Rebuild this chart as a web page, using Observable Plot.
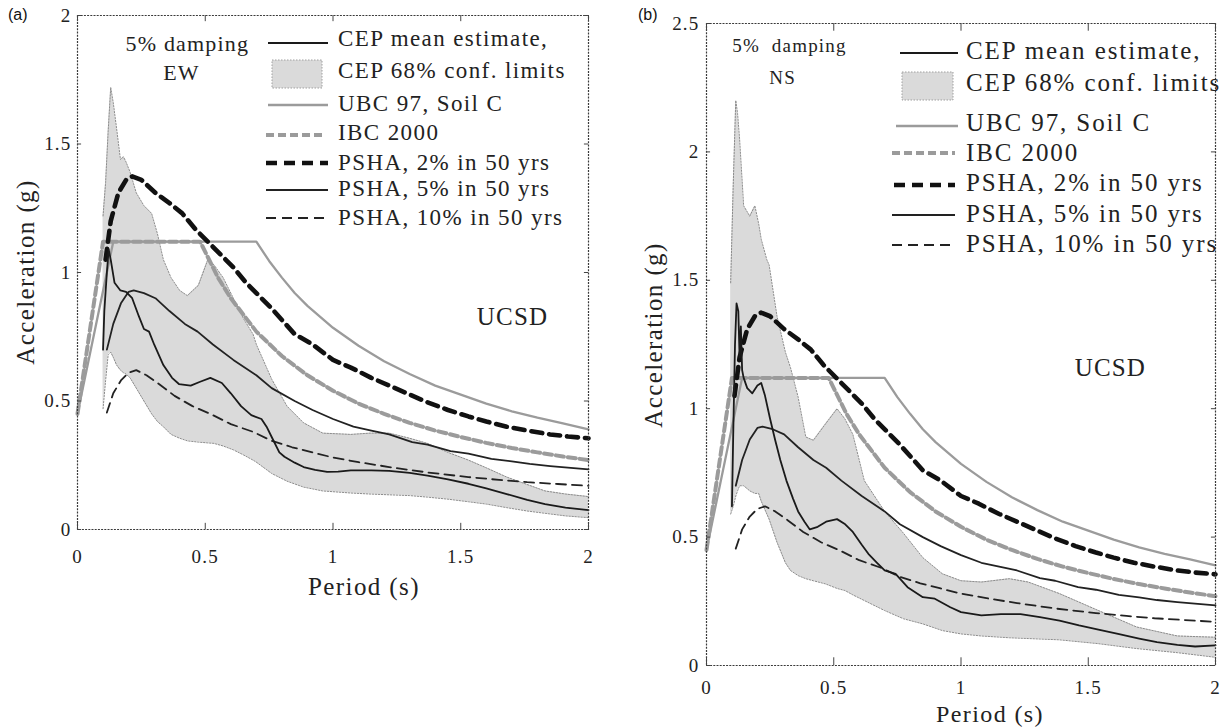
<!DOCTYPE html>
<html>
<head>
<meta charset="utf-8">
<script src="https://cdn.jsdelivr.net/npm/d3@7"></script>
<script src="https://cdn.jsdelivr.net/npm/@observablehq/plot@0.6"></script>
<style>
  html, body { margin: 0; padding: 0; background: #fff; }
  #wrap { position: relative; width: 1223px; height: 727px; overflow: hidden; }
  .panel { position: absolute; top: 0; }
  .tag { position: absolute; top: 6px; font-family: "Liberation Sans", Arial, sans-serif; font-size: 16px; color: #111; }
</style>
</head>
<body>
<div id="wrap"></div>
<script>
// ---------- axes ----------
const periodTicks = [0, 0.5, 1, 1.5, 2];
const accTicksEW = [0, 0.5, 1, 1.5, 2];
const accTicksNS = [0, 0.5, 1, 1.5, 2, 2.5];

// ---------- design spectra, [period (s), acceleration (g)] ----------
const ubc97 = [[0, 0.45], [0.14, 1.12], [0.7, 1.12], [0.75, 1.045], [0.8, 0.98], [0.85, 0.92], [0.9, 0.87],
  [1.0, 0.785], [1.1, 0.715], [1.2, 0.655], [1.3, 0.605], [1.4, 0.56], [1.5, 0.525], [1.6, 0.49],
  [1.7, 0.46], [1.8, 0.435], [1.9, 0.413], [2.0, 0.39]];
const ibc2000 = [[0, 0.45], [0.1, 1.12], [0.48, 1.12], [0.55, 0.98], [0.6, 0.9], [0.7, 0.77], [0.8, 0.675],
  [0.9, 0.6], [1.0, 0.54], [1.1, 0.49], [1.2, 0.45], [1.3, 0.415], [1.4, 0.385], [1.5, 0.36],
  [1.6, 0.337], [1.7, 0.317], [1.8, 0.3], [1.9, 0.284], [2.0, 0.27]];

// ---------- site hazard spectra ----------
const psha2 = [[0.11, 1.05], [0.13, 1.2], [0.16, 1.31], [0.19, 1.36], [0.214, 1.374], [0.25, 1.36], [0.305, 1.31],
  [0.36, 1.27], [0.41, 1.23], [0.46, 1.17], [0.52, 1.11], [0.56, 1.07], [0.61, 1.02], [0.66, 0.96],
  [0.72, 0.9], [0.76, 0.86], [0.85, 0.76], [0.92, 0.72], [1.0, 0.66], [1.07, 0.63], [1.15, 0.59],
  [1.22, 0.56], [1.3, 0.525], [1.37, 0.495], [1.45, 0.465], [1.53, 0.44], [1.6, 0.42], [1.68, 0.4],
  [1.76, 0.385], [1.85, 0.37], [1.92, 0.362], [2.0, 0.355]];
const psha5 = [[0.115, 0.7], [0.14, 0.8], [0.17, 0.88], [0.2, 0.925], [0.22, 0.93], [0.26, 0.92], [0.305, 0.9],
  [0.36, 0.85], [0.42, 0.8], [0.47, 0.77], [0.53, 0.72], [0.61, 0.66], [0.7, 0.6], [0.76, 0.55],
  [0.85, 0.5], [0.92, 0.465], [1.0, 0.43], [1.08, 0.4], [1.15, 0.385], [1.22, 0.37], [1.31, 0.34],
  [1.37, 0.33], [1.46, 0.305], [1.53, 0.295], [1.62, 0.275], [1.7, 0.265], [1.77, 0.255],
  [1.85, 0.247], [2.0, 0.234]];
const psha10 = [[0.115, 0.455], [0.14, 0.53], [0.17, 0.58], [0.2, 0.61], [0.23, 0.62], [0.27, 0.6], [0.32, 0.565],
  [0.38, 0.52], [0.45, 0.48], [0.53, 0.445], [0.6, 0.41], [0.687, 0.38], [0.76, 0.345], [0.84, 0.32],
  [0.92, 0.3], [1.0, 0.28], [1.1, 0.262], [1.22, 0.243], [1.37, 0.222], [1.53, 0.204], [1.65, 0.193],
  [1.76, 0.184], [1.88, 0.177], [2.0, 0.17]];

// ---------- CEP estimate, EW component ----------
const cepMeanEW = [[0.1, 0.7], [0.105, 0.85], [0.115, 1.0], [0.122, 1.09], [0.13, 1.05], [0.145, 0.96],
  [0.168, 0.93], [0.19, 0.925], [0.214, 0.9], [0.24, 0.83], [0.26, 0.78], [0.28, 0.77], [0.3, 0.72],
  [0.336, 0.64], [0.37, 0.59], [0.397, 0.566], [0.443, 0.56], [0.48, 0.575], [0.52, 0.59], [0.565, 0.57],
  [0.6, 0.53], [0.64, 0.48], [0.68, 0.445], [0.72, 0.43], [0.74, 0.4], [0.76, 0.36], [0.79, 0.3],
  [0.81, 0.283], [0.85, 0.26], [0.885, 0.243], [0.93, 0.232], [0.977, 0.224], [1.02, 0.225],
  [1.07, 0.23], [1.15, 0.23], [1.22, 0.228], [1.3, 0.22], [1.37, 0.21], [1.45, 0.195], [1.53, 0.178],
  [1.6, 0.16], [1.68, 0.138], [1.76, 0.115], [1.83, 0.099], [1.91, 0.085], [2.0, 0.075]];
// [period, lower limit, upper limit]
const cepBandEW = [[0.1, 0.47, 1.22], [0.11, 0.58, 1.35], [0.12, 0.68, 1.55], [0.13, 0.69, 1.72],
  [0.14, 0.67, 1.66], [0.153, 0.64, 1.56], [0.168, 0.62, 1.44], [0.18, 0.61, 1.45], [0.19, 0.605, 1.43],
  [0.206, 0.59, 1.39], [0.23, 0.55, 1.31], [0.26, 0.5, 1.26], [0.29, 0.45, 1.23], [0.313, 0.42, 1.15],
  [0.336, 0.4, 1.05], [0.366, 0.37, 0.98], [0.4, 0.355, 0.93], [0.43, 0.345, 0.91], [0.473, 0.34, 0.95],
  [0.51, 0.337, 1.05], [0.534, 0.335, 1.03], [0.57, 0.325, 0.98], [0.61, 0.31, 0.9], [0.65, 0.29, 0.82],
  [0.687, 0.27, 0.76], [0.7, 0.262, 0.72], [0.76, 0.218, 0.585], [0.82, 0.188, 0.48], [0.885, 0.165, 0.415],
  [0.96, 0.15, 0.375], [1.07, 0.142, 0.37], [1.145, 0.138, 0.375], [1.22, 0.135, 0.375], [1.3, 0.132, 0.355],
  [1.37, 0.126, 0.335], [1.45, 0.118, 0.3], [1.53, 0.108, 0.27], [1.6, 0.099, 0.24], [1.68, 0.085, 0.204],
  [1.76, 0.072, 0.175], [1.83, 0.063, 0.15], [1.91, 0.053, 0.138], [2.0, 0.046, 0.128]];

// ---------- CEP estimate, NS component ----------
const cepMeanNS = [[0.1, 0.62], [0.105, 0.9], [0.112, 1.25], [0.118, 1.41], [0.125, 1.38], [0.13, 1.2],
  [0.135, 1.32], [0.14, 1.15], [0.146, 1.12], [0.16, 1.08], [0.18, 1.06], [0.2, 1.09], [0.215, 1.1],
  [0.23, 1.05], [0.25, 0.96], [0.27, 0.877], [0.29, 0.8], [0.314, 0.72], [0.34, 0.65], [0.36, 0.6],
  [0.385, 0.56], [0.406, 0.53], [0.437, 0.54], [0.47, 0.56], [0.513, 0.57], [0.545, 0.55], [0.575, 0.52],
  [0.61, 0.47], [0.636, 0.435], [0.67, 0.4], [0.7, 0.37], [0.743, 0.357], [0.79, 0.305], [0.85, 0.266],
  [0.897, 0.26], [0.958, 0.227], [1.0, 0.208], [1.08, 0.195], [1.157, 0.2], [1.234, 0.2], [1.31, 0.188],
  [1.387, 0.175], [1.464, 0.156], [1.54, 0.14], [1.617, 0.123], [1.7, 0.105], [1.77, 0.091],
  [1.85, 0.08], [1.92, 0.074], [2.0, 0.078]];
const cepBandNS = [[0.095, 0.59, 1.49], [0.105, 0.62, 1.87], [0.115, 0.66, 2.2], [0.122, 0.68, 2.15],
  [0.13, 0.7, 2.05], [0.146, 0.7, 1.79], [0.17, 0.68, 1.75], [0.19, 0.67, 1.79], [0.205, 0.67, 1.72],
  [0.215, 0.64, 1.66], [0.237, 0.59, 1.58], [0.246, 0.57, 1.56], [0.277, 0.48, 1.36], [0.31, 0.4, 1.22],
  [0.33, 0.37, 1.16], [0.36, 0.35, 1.045], [0.39, 0.338, 0.89], [0.42, 0.33, 0.877], [0.467, 0.318, 0.94],
  [0.513, 0.3, 1.0], [0.544, 0.292, 0.96], [0.575, 0.275, 0.9], [0.62, 0.253, 0.72], [0.7, 0.214, 0.6],
  [0.774, 0.182, 0.515], [0.85, 0.162, 0.42], [0.927, 0.136, 0.357], [1.0, 0.123, 0.33], [1.08, 0.115, 0.325],
  [1.19, 0.108, 0.338], [1.264, 0.105, 0.325], [1.387, 0.1, 0.28], [1.54, 0.085, 0.214], [1.69, 0.066, 0.15],
  [1.85, 0.05, 0.115], [2.0, 0.032, 0.11]];

// ---------- text ----------
const legendLabels = ["CEP mean estimate,", "CEP 68% conf. limits", "UBC 97, Soil C", "IBC 2000",
  "PSHA, 2% in 50 yrs", "PSHA, 5% in 50 yrs", "PSHA, 10% in 50 yrs"];
const notesEW = [{T: 0.43, A: 1.89, label: "5% damping"}, {T: 0.407, A: 1.778, label: "EW"}];
const notesNS = [{T: 0.326, A: 2.414, label: "5%\u00a0 damping"}, {T: 0.299, A: 2.29, label: "NS"}];
const siteEW = [{T: 1.703, A: 0.825, label: "UCSD"}];
const siteNS = [{T: 1.587, A: 1.157, label: "UCSD"}];

// ---------- styles ----------
const SERIF = "'Liberation Serif', 'Times New Roman', serif";
const GRAY = "#9b9b9b";
const BAND = "#dadada";
const styles = {
  mean:   {stroke: "#1a1a1a", strokeWidth: 1.8},
  ubc:    {stroke: GRAY, strokeWidth: 2.3},
  ibc:    {stroke: GRAY, strokeWidth: 4, strokeDasharray: "8,4"},
  psha2:  {stroke: "#111", strokeWidth: 4.6, strokeDasharray: "11,7"},
  psha5:  {stroke: "#222", strokeWidth: 1.8},
  psha10: {stroke: "#222", strokeWidth: 1.8, strokeDasharray: "10,6"}
};
const P = d => d[0];
const V = d => d[1];
const fmt = d => String(d);

function panel(cfg) {
  const yMax = cfg.yTicks[cfg.yTicks.length - 1];
  const tick = "#444";
  const svg = Plot.plot({
    width: cfg.width, height: cfg.height,
    marginLeft: cfg.m[0], marginTop: cfg.m[1], marginRight: cfg.m[2], marginBottom: cfg.m[3],
    style: {fontFamily: SERIF, background: "transparent", overflow: "visible"},
    x: {domain: [0, 2]},
    y: {domain: [0, yMax]},
    marks: [
      Plot.areaY(cfg.band, {x: P, y1: d => d[1], y2: d => d[2], fill: BAND}),
      Plot.lineY(cfg.band, {x: P, y: d => d[1], stroke: "#8c8c8c", strokeWidth: 1, strokeDasharray: "1.5,1.5"}),
      Plot.lineY(cfg.band, {x: P, y: d => d[2], stroke: "#8c8c8c", strokeWidth: 1, strokeDasharray: "1.5,1.5"}),
      Plot.line(ubc97, {x: P, y: V, ...styles.ubc}),
      Plot.line(ibc2000, {x: P, y: V, ...styles.ibc}),
      Plot.line(psha2, {x: P, y: V, ...styles.psha2}),
      Plot.line(psha5, {x: P, y: V, ...styles.psha5}),
      Plot.line(psha10, {x: P, y: V, ...styles.psha10}),
      Plot.line(cfg.mean, {x: P, y: V, ...styles.mean}),
      Plot.frame({stroke: "#3a3a3a", strokeWidth: 1.2, strokeDasharray: "2,1.2"}),
      Plot.ruleX(periodTicks, {x: d => d, y1: 0, y2: yMax * 0.012, stroke: tick}),
      Plot.ruleX(periodTicks, {x: d => d, y1: yMax, y2: yMax * 0.988, stroke: tick}),
      Plot.ruleY(cfg.yTicks, {y: d => d, x1: 0, x2: 0.016, stroke: tick}),
      Plot.ruleY(cfg.yTicks, {y: d => d, x1: 2, x2: 1.984, stroke: tick}),
      Plot.axisX(periodTicks, {tickSize: 0, tickPadding: cfg.xPad, tickFormat: fmt, fontSize: 19, fill: "#222", label: null}),
      Plot.axisY(cfg.yTicks, {tickSize: 0, tickPadding: cfg.yPad, tickFormat: fmt, fontSize: 19, fill: "#222", label: null}),
      Plot.text(cfg.notes, {x: "T", y: "A", text: "label", fontSize: cfg.noteSize, fill: "#222"}),
      Plot.text(cfg.site, {x: "T", y: "A", text: "label", fontSize: 25, fill: "#222"})
    ]
  });
  const s = d3.select(svg);
  s.selectAll("text").style("letter-spacing", "1.2px");

  // axis titles
  s.append("text").attr("x", cfg.xTitle[0]).attr("y", cfg.xTitle[1])
    .attr("text-anchor", "middle").attr("font-size", cfg.titleSize).attr("fill", "#222")
    .style("letter-spacing", "1.4px").text("Period (s)");
  s.append("text").attr("transform", `translate(${cfg.yTitle[0]},${cfg.yTitle[1]}) rotate(-90)`)
    .attr("text-anchor", "middle").attr("font-size", 25).attr("fill", "#222")
    .style("letter-spacing", "1.4px").text("Acceleration (g)");

  // legend
  const L = cfg.legend;
  const g = s.append("g").attr("font-family", SERIF).attr("font-size", L.fontSize)
    .attr("text-anchor", "start").style("letter-spacing", L.ls + "px").attr("fill", "#222");
  const keys = ["mean", "band", "ubc", "ibc", "psha2", "psha5", "psha10"];
  keys.forEach((k, i) => {
    const r = L.rows[i];
    if (k === "band") {
      g.append("rect").attr("x", r.x0).attr("y", r.y - L.boxH / 2).attr("width", r.x1 - r.x0)
        .attr("height", L.boxH).attr("fill", BAND).attr("stroke", "#a0a0a0")
        .attr("stroke-width", 1).attr("stroke-dasharray", "1.5,1.5");
    } else {
      const st = styles[k];
      g.append("line").attr("x1", r.x0).attr("x2", r.x1).attr("y1", r.y).attr("y2", r.y)
        .attr("stroke", st.stroke).attr("stroke-width", st.strokeWidth)
        .attr("stroke-dasharray", st.strokeDasharray || null);
    }
    g.append("text").attr("x", L.textX).attr("y", r.ty).attr("dy", "0.35em")
      .attr("text-anchor", "start").text(legendLabels[i]);
  });
  return svg;
}

const wrap = document.getElementById("wrap");

const divA = document.createElement("div");
divA.className = "panel"; divA.style.left = "0px";
divA.appendChild(panel({
  width: 610, height: 600, m: [77, 15, 22, 71],
  band: cepBandEW, mean: cepMeanEW, yTicks: accTicksEW,
  xPad: 20, yPad: 6, notes: notesEW, noteSize: 22, site: siteEW,
  xTitle: [364, 595], yTitle: [34, 272], titleSize: 25,
  legend: {
    fontSize: 23, ls: 1.4, textX: 338, boxH: 28,
    rows: [
      {x0: 268, x1: 328, y: 43, ty: 38},
      {x0: 272, x1: 322, y: 74, ty: 70},
      {x0: 268, x1: 328, y: 105, ty: 103},
      {x0: 266, x1: 326, y: 135, ty: 132},
      {x0: 266, x1: 328, y: 163, ty: 162},
      {x0: 266, x1: 328, y: 190, ty: 188},
      {x0: 266, x1: 328, y: 218, ty: 217}
    ]
  }
}));
wrap.appendChild(divA);

const divB = document.createElement("div");
divB.className = "panel"; divB.style.left = "610px";
divB.appendChild(panel({
  width: 613, height: 727, m: [96, 23, 8, 62],
  band: cepBandNS, mean: cepMeanNS, yTicks: accTicksNS,
  xPad: 15, yPad: 7, notes: notesNS, noteSize: 19, site: siteNS,
  xTitle: [380, 722], yTitle: [52, 335], titleSize: 24,
  legend: {
    fontSize: 25, ls: 1.9, textX: 356, boxH: 28,
    rows: [
      {x0: 290, x1: 348, y: 53, ty: 50},
      {x0: 292, x1: 343, y: 86, ty: 82},
      {x0: 286, x1: 348, y: 126, ty: 122},
      {x0: 282, x1: 345, y: 153, ty: 152},
      {x0: 284, x1: 345, y: 185, ty: 182},
      {x0: 282, x1: 345, y: 215, ty: 213},
      {x0: 282, x1: 345, y: 245, ty: 243}
    ]
  }
}));
wrap.appendChild(divB);

for (const [t, x] of [["(a)", 8], ["(b)", 638]]) {
  const d = document.createElement("div");
  d.className = "tag"; d.style.left = x + "px"; d.textContent = t;
  wrap.appendChild(d);
}
</script>
</body>
</html>
